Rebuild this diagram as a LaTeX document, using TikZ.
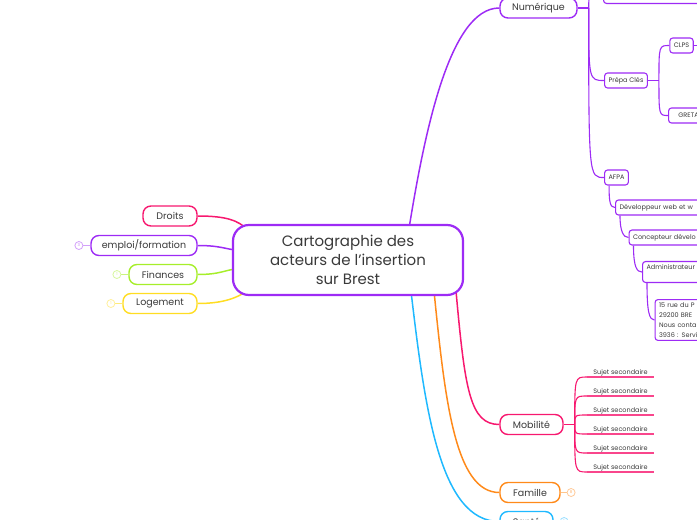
\documentclass[tikz,border=0pt]{standalone}
\usepackage{fontspec}
\setmainfont{Poppins}
\usetikzlibrary{positioning,backgrounds}

\definecolor{mmviolet}{HTML}{9D2BF5}
\definecolor{mmpink}{HTML}{F7186F}
\definecolor{mmlime}{HTML}{A6EE2A}
\definecolor{mmyellow}{HTML}{FFDD22}
\definecolor{mmorange}{HTML}{FF8A1A}
\definecolor{mmcyan}{HTML}{1FB9FF}
\definecolor{mmtext}{HTML}{3A3A3A}

\tikzset{
    topic/.style={draw=#1, line width=1.4pt, rounded corners=8pt, fill=white,
        text=mmtext, font=\fontsize{9.5}{11}\selectfont, minimum height=20pt},
    leaf/.style={draw=#1, line width=1.1pt, rounded corners=3pt, fill=white,
        text=mmtext, font=\fontsize{6.5}{10}\selectfont, inner xsep=4pt,
        inner ysep=3pt, minimum height=15pt},
    longleaf/.style={leaf=#1, anchor=west, text width=100pt, align=left},
    sujet/.style={text=mmtext, font=\fontsize{6.5}{8}\selectfont, inner sep=1pt,
        minimum width=67pt, anchor=south},
    link/.style={draw=#1, line width=1.5pt},
    thin link/.style={draw=#1, line width=1.1pt},
    count/.style={circle, draw=#1!45, line width=0.8pt, minimum size=8pt,
        inner sep=0pt, fill=white, font=\fontsize{4}{4}\selectfont, text=#1!60},
}

\begin{document}
\begin{tikzpicture}[x=1pt, y=-1pt]
    \useasboundingbox (0,0) rectangle (697,520);
    \clip (0,0) rectangle (697,520);

    % central topic
    \node[topic=mmviolet, line width=2.2pt, rounded corners=16pt, minimum width=230pt,
        minimum height=70pt, align=center, font=\fontsize{15}{19}\selectfont]
        (root) at (348,260) {Cartographie des\\acteurs de l’insertion\\sur Brest};

    % left side
    \node[topic=mmpink, minimum width=54pt] (droits) at (170,216) {Droits};
    \node[topic=mmviolet, minimum width=106pt] (emploi) at (144,245.5) {emploi/formation};
    \node[topic=mmlime, minimum width=68pt] (finances) at (163,274.5) {Finances};
    \node[topic=mmyellow, minimum width=74pt] (logement) at (160,303.5) {Logement};
    \node[count=mmviolet, left=7pt of emploi] (emploicount) {3};
    \node[count=mmlime, left=7pt of finances] (financescount) {1};
    \node[count=mmyellow, left=7pt of logement] (logementcount) {1};

    % right side
    \node[topic=mmviolet, minimum width=77pt] (numerique) at (538.5,8) {Numérique};
    \node[topic=mmpink, minimum width=63pt] (mobilite) at (531.5,424.5) {Mobilité};
    \node[topic=mmorange, minimum width=60pt] (famille) at (530,492.5) {Famille};
    \node[topic=mmcyan, minimum width=53pt] (sante) at (526.5,521.5) {Santé};
    \node[count=mmorange, right=6pt of famille] (famillecount) {8};
    \node[count=mmcyan, right=6pt of sante] (santecount) {1};

    % Numérique
    \node[leaf=mmviolet, anchor=south west, minimum width=120pt, minimum height=18pt]
        (numtop) at (603,4) {};
    \node[leaf=mmviolet] (prepa) at (626,80.5) {Prépa Clés};
    \node[leaf=mmviolet] (afpa) at (616.5,177.5) {AFPA};
    \node[leaf=mmviolet] (clps) at (681.5,45.5) {CLPS};
    \node[leaf=mmviolet, anchor=west, minimum width=40pt] (greta) at (668,115.5) {GRETA};
    \node[longleaf=mmviolet] (dev) at (615,207.5) {Développeur web et w};
    \node[longleaf=mmviolet] (concepteur) at (628.5,237.5) {Concepteur dévelo};
    \node[longleaf=mmviolet, text depth=10pt] (admin) at (642,272) {Administrateur};
    \node[longleaf=mmviolet] (adresse) at (654.5,320)
        {15 rue du P\\29200 BRE\\Nous conta\\3936 : Servi};

    % Mobilité
    \foreach \y [count=\i] in {377,396,415,434,453,472}
        \node[sujet] (sujet\i) at (620.5,\y) {Sujet secondaire};

    \begin{scope}[on background layer]
        \draw[link=mmpink] (droits.east) .. controls (228,216) and (238,221)
            .. ([shift={(15,5)}]root.north west);
        \draw[link=mmviolet] (emploi.east) .. controls (220,245.5) and (225,249)
            .. ([shift={(4,-10)}]root.west);
        \draw[link=mmlime] (finances.east) .. controls (220,274.5) and (225,270)
            .. ([shift={(4,9)}]root.west);
        \draw[link=mmyellow] (logement.east) .. controls (225,303.5) and (238,297)
            .. ([shift={(15,-5)}]root.south west);
        \draw[thin link=mmviolet!45] (emploicount) -- (emploi);
        \draw[thin link=mmlime!60] (financescount) -- (finances);
        \draw[thin link=mmyellow!60] (logementcount) -- (logement);

        \draw[link=mmviolet] ([shift={(-55,4)}]root.north east) .. controls (425,130)
            and (450,8) .. (numerique.west);
        \draw[link=mmpink] ([shift={(-8,-4)}]root.south east) .. controls (465,390)
            and (470,424.5) .. (mobilite.west);
        \draw[link=mmorange] ([shift={(-30,-4)}]root.south east) .. controls (445,400)
            and (455,492.5) .. (famille.west);
        \draw[link=mmcyan] ([shift={(-53,-4)}]root.south east) .. controls (425,410)
            and (440,521.5) .. (sante.west);
        \draw[thin link=mmorange!50] (famille) -- (famillecount);
        \draw[thin link=mmcyan!45] (sante) -- (santecount);

        % Numérique branches
        \draw[link=mmviolet] (numerique.east) -- ++(11,0) coordinate (numhub);
        \foreach \child in {numtop,prepa,afpa}
            \draw[thin link=mmviolet] (numhub) .. controls (numhub |- \child.west)
                .. (\child.west);
        \draw[link=mmviolet] (prepa.east) -- ++(11,0) coordinate (prepahub);
        \foreach \child in {clps,greta}
            \draw[thin link=mmviolet] (prepahub) .. controls (prepahub |- \child.west)
                .. (\child.west);
        \draw[thin link=mmviolet] (clps.east) -- ++(12,0) coordinate (clpsout);
        \draw[thin link=mmviolet] ([shift={(5,0)}]afpa.south west) .. controls +(0,16)
            and +(-5,0) .. (dev.west);
        \draw[thin link=mmviolet] ([shift={(5,0)}]dev.south west) .. controls +(0,16)
            and +(-5,0) .. (concepteur.west);
        \draw[thin link=mmviolet] ([shift={(5,0)}]concepteur.south west) .. controls +(0,22)
            and +(-5,0) .. (admin.west);
        \draw[thin link=mmviolet] ([shift={(5,0)}]admin.south west) .. controls +(0,30)
            and +(-5,0) .. (adresse.west);

        % Mobilité branches
        \draw[link=mmpink] (mobilite.east) -- ++(11,0) coordinate (mobhub);
        \foreach \i in {1,...,6} {
            \draw[thin link=mmpink] (mobhub) .. controls (mobhub |- sujet\i.south west)
                .. (sujet\i.south west);
            \draw[thin link=mmpink!80] (sujet\i.south west) -- (sujet\i.south east);
        }
    \end{scope}
\end{tikzpicture}
\end{document}
